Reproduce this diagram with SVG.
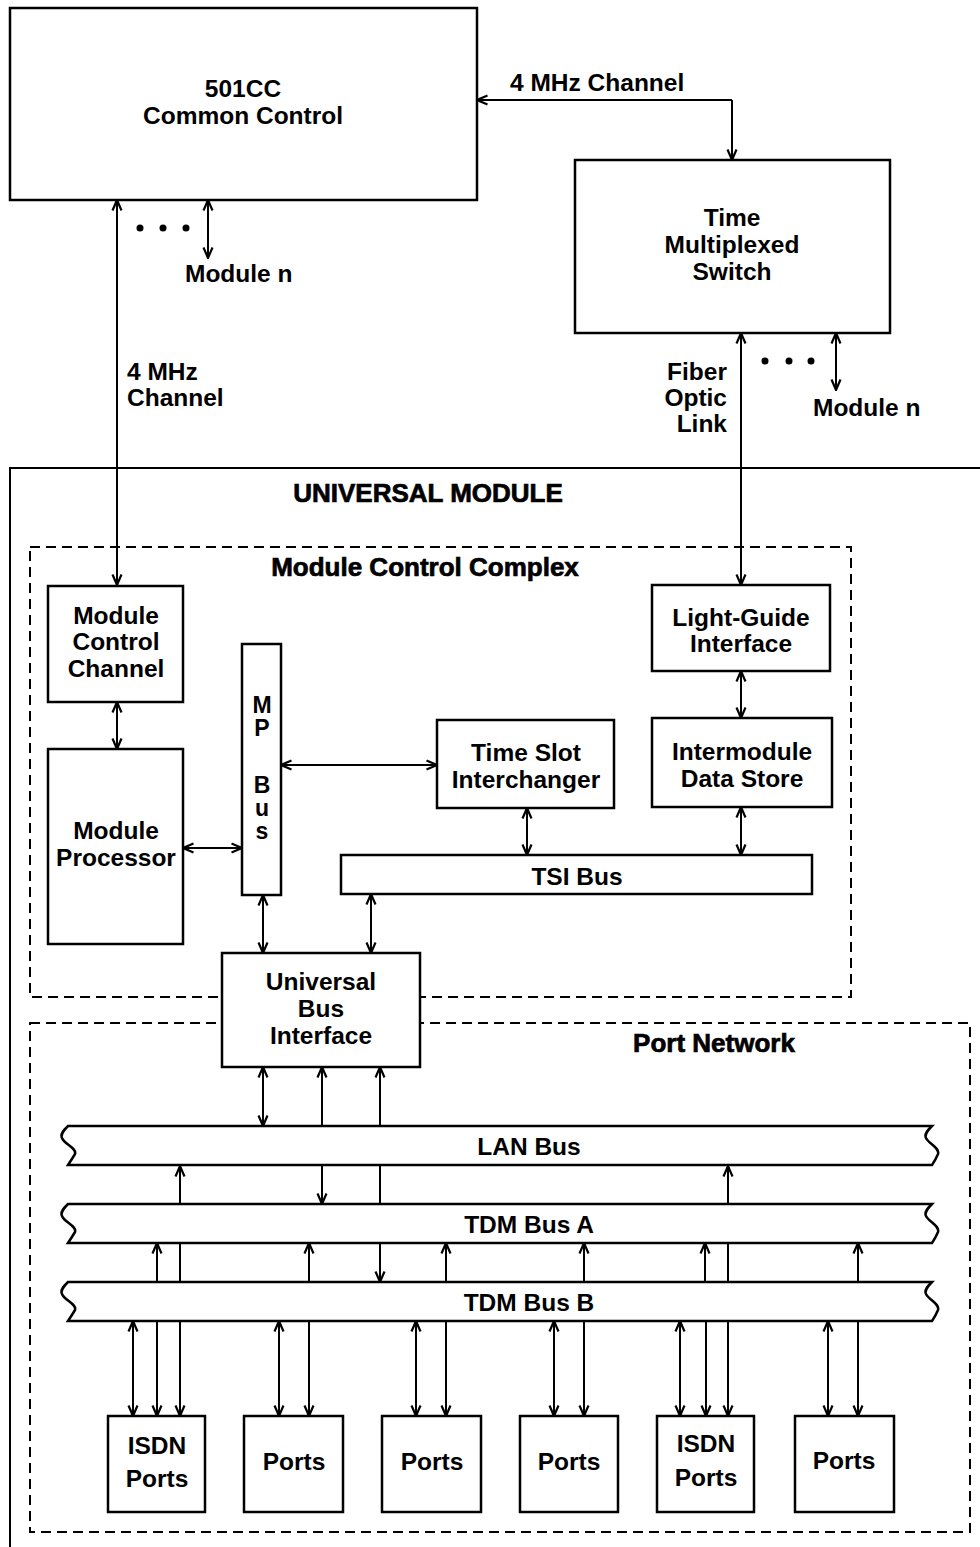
<svg xmlns="http://www.w3.org/2000/svg" xmlns:xlink="http://www.w3.org/1999/xlink" width="980" height="1547" viewBox="0 0 980 1547">
<style>
.box{fill:#fff;stroke:#000;stroke-width:2.5}
.dash{fill:none;stroke:#000;stroke-width:2;stroke-dasharray:10 6}
.ln{fill:none;stroke:#000;stroke-width:2}
.t{font-family:"Liberation Sans",Arial,sans-serif;font-weight:bold;font-size:24.5px;fill:#000;text-anchor:middle}
.s{text-anchor:start}
.e{text-anchor:end}
.h{font-size:26px;stroke:#000;stroke-width:0.7}
.v{font-size:23px}
.dot{fill:#000}
</style>
<defs>
<marker id="ah" viewBox="0 0 12 12" refX="11.5" refY="6" markerWidth="12" markerHeight="12" markerUnits="userSpaceOnUse" orient="auto-start-reverse">
<path d="M1,1.5 L11.5,6 L1,10.5" fill="none" stroke="#000" stroke-width="2.2"/>
</marker>
<path id="bus" class="box" d="M68,0 L932,0 C928,4 924,8 926,12 C929,18 940,22 938,28 C936,33 934,36 932,39 L68,39 C70,36 72,33 75,28 C77,22 64,18 62,12 C60,8 64,4 68,0 Z"/>
</defs>

<g id="universal-module">
<path class="ln" d="M980,468 L10,468 L10,1547" stroke-width="2.5"/>
<text class="t h" x="428" y="502">UNIVERSAL MODULE</text>
</g>
<g id="module-control-complex">
<rect class="dash" x="30" y="547" width="821" height="450"/>
<text class="t h" x="425" y="576">Module Control Complex</text>
</g>
<g id="port-network">
<rect class="dash" x="30" y="1023" width="940" height="509"/>
<text class="t h" x="714" y="1052">Port Network</text>
</g>

<g id="connectors">
<path class="ln" d="M732,100 L477,100" marker-end="url(#ah)"/>
<path class="ln" d="M732,100 L732,160" marker-end="url(#ah)"/>
<path class="ln" d="M117,200 L117,585" marker-start="url(#ah)" marker-end="url(#ah)"/>
<path class="ln" d="M208,200 L208,258" marker-start="url(#ah)" marker-end="url(#ah)"/>
<path class="ln" d="M741,333 L741,585" marker-start="url(#ah)" marker-end="url(#ah)"/>
<path class="ln" d="M836,333 L836,390" marker-start="url(#ah)" marker-end="url(#ah)"/>
<path class="ln" d="M117,702 L117,749" marker-start="url(#ah)" marker-end="url(#ah)"/>
<path class="ln" d="M183,848 L242,848" marker-start="url(#ah)" marker-end="url(#ah)"/>
<path class="ln" d="M281,765 L437,765" marker-start="url(#ah)" marker-end="url(#ah)"/>
<path class="ln" d="M741,671 L741,718" marker-start="url(#ah)" marker-end="url(#ah)"/>
<path class="ln" d="M527,808 L527,855" marker-start="url(#ah)" marker-end="url(#ah)"/>
<path class="ln" d="M741,807 L741,855" marker-start="url(#ah)" marker-end="url(#ah)"/>
<path class="ln" d="M263,895 L263,953" marker-start="url(#ah)" marker-end="url(#ah)"/>
<path class="ln" d="M371,894 L371,953" marker-start="url(#ah)" marker-end="url(#ah)"/>
<path class="ln" d="M263,1067 L263,1126" marker-start="url(#ah)" marker-end="url(#ah)"/>
<path class="ln" d="M322,1126 L322,1067" marker-end="url(#ah)"/>
<path class="ln" d="M380,1126 L380,1067" marker-end="url(#ah)"/>
<path class="ln" d="M180,1204 L180,1166" marker-end="url(#ah)"/>
<path class="ln" d="M322,1166 L322,1204" marker-end="url(#ah)"/>
<path class="ln" d="M380,1166 L380,1204"/>
<path class="ln" d="M728,1204 L728,1166" marker-end="url(#ah)"/>
<path class="ln" d="M157,1282 L157,1243" marker-end="url(#ah)"/>
<path class="ln" d="M180,1243 L180,1282"/>
<path class="ln" d="M309,1282 L309,1243" marker-end="url(#ah)"/>
<path class="ln" d="M380,1243 L380,1282" marker-end="url(#ah)"/>
<path class="ln" d="M446,1282 L446,1243" marker-end="url(#ah)"/>
<path class="ln" d="M584,1282 L584,1243" marker-end="url(#ah)"/>
<path class="ln" d="M705,1282 L705,1243" marker-end="url(#ah)"/>
<path class="ln" d="M728,1243 L728,1282"/>
<path class="ln" d="M858,1282 L858,1243" marker-end="url(#ah)"/>
<path class="ln" d="M133,1321 L133,1416" marker-start="url(#ah)" marker-end="url(#ah)"/>
<path class="ln" d="M157,1321 L157,1416" marker-end="url(#ah)"/>
<path class="ln" d="M180,1321 L180,1416" marker-end="url(#ah)"/>
<path class="ln" d="M279,1321 L279,1416" marker-start="url(#ah)" marker-end="url(#ah)"/>
<path class="ln" d="M309,1321 L309,1416" marker-end="url(#ah)"/>
<path class="ln" d="M416,1321 L416,1416" marker-start="url(#ah)" marker-end="url(#ah)"/>
<path class="ln" d="M446,1321 L446,1416" marker-end="url(#ah)"/>
<path class="ln" d="M554,1321 L554,1416" marker-start="url(#ah)" marker-end="url(#ah)"/>
<path class="ln" d="M584,1321 L584,1416" marker-end="url(#ah)"/>
<path class="ln" d="M680,1321 L680,1416" marker-start="url(#ah)" marker-end="url(#ah)"/>
<path class="ln" d="M706,1321 L706,1416" marker-end="url(#ah)"/>
<path class="ln" d="M728,1321 L728,1416" marker-end="url(#ah)"/>
<path class="ln" d="M828,1321 L828,1416" marker-start="url(#ah)" marker-end="url(#ah)"/>
<path class="ln" d="M858,1321 L858,1416" marker-end="url(#ah)"/>
</g>

<g id="labels">
<text class="t s" x="510" y="91">4 MHz Channel</text>
<circle class="dot" cx="140" cy="228" r="3.5"/><circle class="dot" cx="163" cy="228" r="3.5"/><circle class="dot" cx="186" cy="228" r="3.5"/>
<text class="t s" x="185" y="282">Module n</text>
<text class="t s" x="127" y="380">4 MHz</text>
<text class="t s" x="127" y="406">Channel</text>
<text class="t e" x="727" y="380">Fiber</text>
<text class="t e" x="727" y="406">Optic</text>
<text class="t e" x="727" y="432">Link</text>
<circle class="dot" cx="765" cy="361" r="3.5"/><circle class="dot" cx="789" cy="361" r="3.5"/><circle class="dot" cx="811" cy="361" r="3.5"/>
<text class="t s" x="813" y="416">Module n</text>
</g>

<g id="common-control">
<rect class="box" x="10" y="8" width="467" height="192"/>
<text class="t" x="243" y="97">501CC</text>
<text class="t" x="243" y="124">Common Control</text>
</g>
<g id="tms">
<rect class="box" x="575" y="160" width="315" height="173"/>
<text class="t" x="732" y="226">Time</text>
<text class="t" x="732" y="253">Multiplexed</text>
<text class="t" x="732" y="280">Switch</text>
</g>
<g id="mcc">
<rect class="box" x="48" y="586" width="135" height="116"/>
<text class="t" x="116" y="624">Module</text>
<text class="t" x="116" y="650">Control</text>
<text class="t" x="116" y="677">Channel</text>
</g>
<g id="mp">
<rect class="box" x="48" y="749" width="135" height="195"/>
<text class="t" x="116" y="839">Module</text>
<text class="t" x="116" y="866">Processor</text>
</g>
<g id="mpbus">
<rect class="box" x="242" y="644" width="39" height="251"/>
<text class="t v" x="262" y="713"><tspan x="262" y="713">M</tspan><tspan x="262" y="736">P</tspan><tspan x="262" y="793">B</tspan><tspan x="262" y="816">u</tspan><tspan x="262" y="839">s</tspan></text>
</g>
<g id="tsi">
<rect class="box" x="437" y="720" width="177" height="88"/>
<text class="t" x="526" y="761">Time Slot</text>
<text class="t" x="526" y="788">Interchanger</text>
</g>
<g id="lgi">
<rect class="box" x="652" y="585" width="178" height="86"/>
<text class="t" x="741" y="626">Light-Guide</text>
<text class="t" x="741" y="652">Interface</text>
</g>
<g id="ids">
<rect class="box" x="652" y="718" width="180" height="89"/>
<text class="t" x="742" y="760">Intermodule</text>
<text class="t" x="742" y="787">Data Store</text>
</g>
<g id="tsibus">
<rect class="box" x="341" y="855" width="471" height="39"/>
<text class="t" x="577" y="885">TSI Bus</text>
</g>
<g id="ubi">
<rect class="box" x="222" y="953" width="198" height="114"/>
<text class="t" x="321" y="990">Universal</text>
<text class="t" x="321" y="1017">Bus</text>
<text class="t" x="321" y="1044">Interface</text>
</g>
<g id="lanbus">
<use xlink:href="#bus" y="1126"/>
<text class="t" x="529" y="1155">LAN Bus</text>
</g>
<g id="tdma">
<use xlink:href="#bus" y="1204"/>
<text class="t" x="529" y="1233">TDM Bus A</text>
</g>
<g id="tdmb">
<use xlink:href="#bus" y="1282"/>
<text class="t" x="529" y="1311">TDM Bus B</text>
</g>
<g id="port1">
<rect class="box" x="108" y="1416" width="97" height="96"/>
<text class="t" x="157" y="1454">ISDN</text>
<text class="t" x="157" y="1487">Ports</text>
</g>
<g id="port2">
<rect class="box" x="244" y="1416" width="99" height="96"/>
<text class="t" x="294" y="1470">Ports</text>
</g>
<g id="port3">
<rect class="box" x="382" y="1416" width="99" height="96"/>
<text class="t" x="432" y="1470">Ports</text>
</g>
<g id="port4">
<rect class="box" x="520" y="1416" width="98" height="96"/>
<text class="t" x="569" y="1470">Ports</text>
</g>
<g id="port5">
<rect class="box" x="657" y="1416" width="97" height="96"/>
<text class="t" x="706" y="1452">ISDN</text>
<text class="t" x="706" y="1486">Ports</text>
</g>
<g id="port6">
<rect class="box" x="795" y="1416" width="99" height="96"/>
<text class="t" x="844" y="1469">Ports</text>
</g>
</svg>
